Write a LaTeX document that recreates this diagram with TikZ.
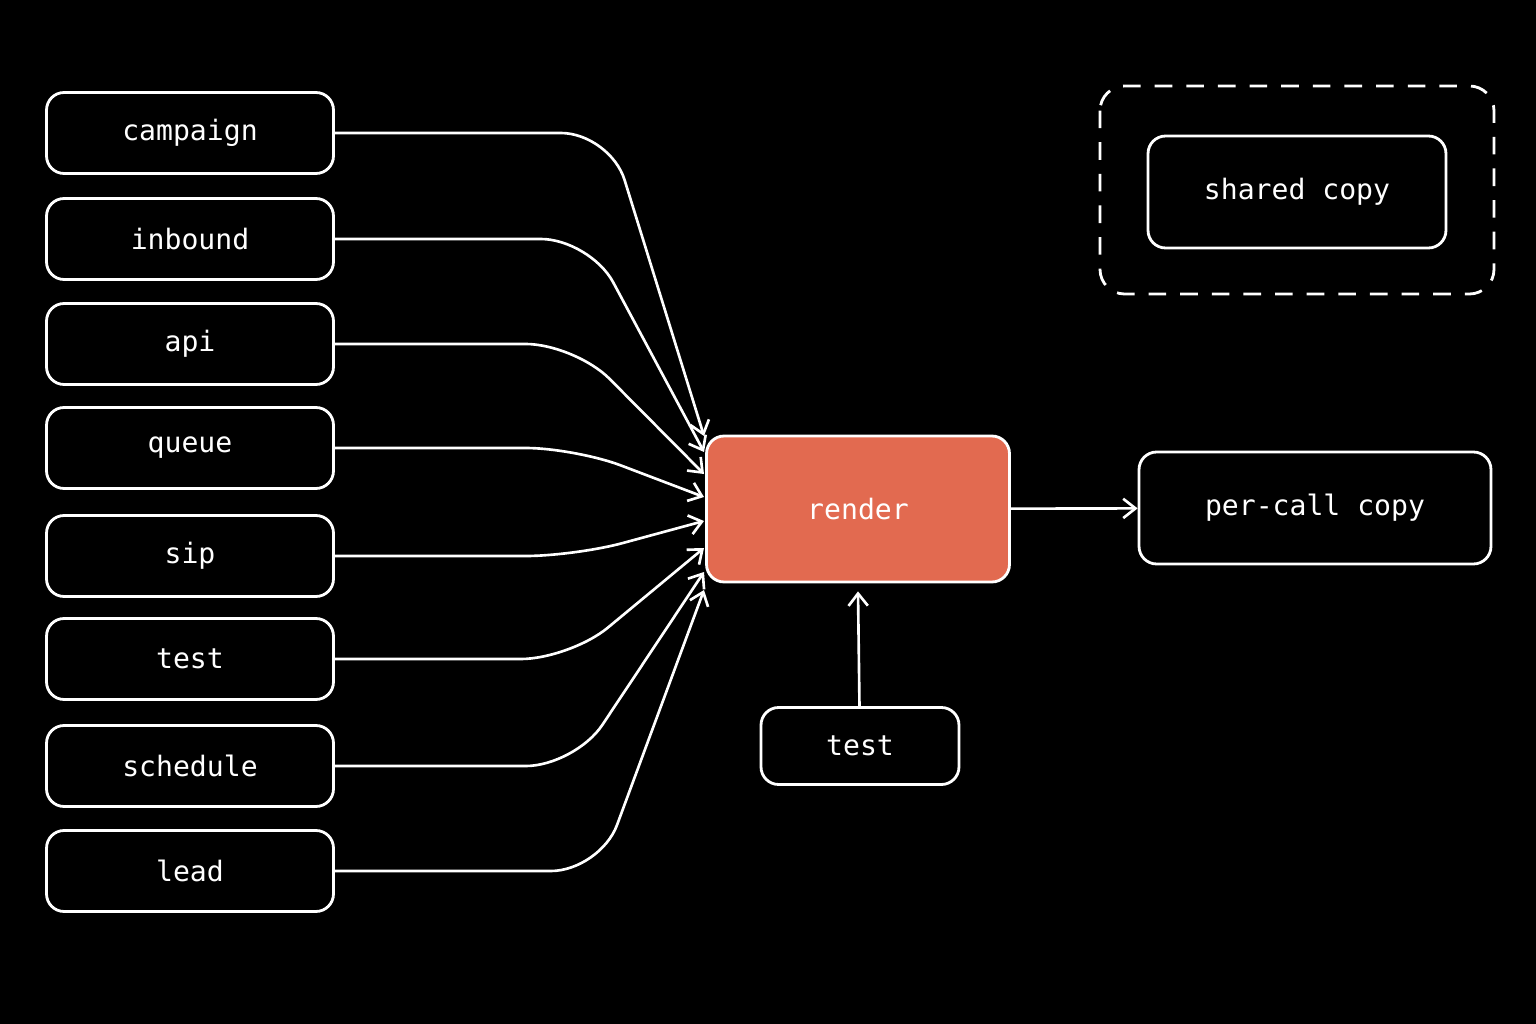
\documentclass[tikz,border=0pt]{standalone}
\usepackage{fontspec}
\setmonofont{DejaVu Sans Mono}
\usetikzlibrary{arrows.meta, calc}
\definecolor{renderfill}{RGB}{226,106,80}
\tikzstyle{source} = [rectangle, draw=white, line width=1.6pt, rounded corners=10pt,
    minimum width=5.74cm, minimum height=1.62cm, text=white, font=\ttfamily\fontsize{16}{18}\selectfont]
\tikzstyle{core} = [source, fill=renderfill, minimum width=6.06cm, minimum height=2.92cm]
\tikzstyle{line} = [draw=white, line width=1.5pt, -{Straight Barb[length=7pt,width=11pt]}]

\begin{document}
\begin{tikzpicture}[x=0.02cm, y=-0.02cm]
    \fill[black] (0,0) rectangle (1536,1024);
    \useasboundingbox (0,0) rectangle (1536,1024);
    % Nodes
    \node [core] (render) at (858,509) {render};
    \node [source, minimum width=7.04cm, minimum height=2.24cm] (percall) at (1315,508) {per-call copy};
    \node [source, minimum width=5.96cm, minimum height=2.24cm] (shared) at (1297,192) {shared copy};
    \draw [white, line width=1.6pt, dash pattern=on 10pt off 8pt, rounded corners=14pt] (1100,86) rectangle (1494,294);
    \node [source, minimum width=3.96cm, minimum height=1.54cm] (testb) at (860,746) {test};
    \foreach \name/\y/\bx/\ey in {campaign/133/610/436, inbound/239/590/452, api/344/575/474,
        queue/448/575/497, sip/556/575/521, test/659/570/548, schedule/766/575/572, lead/871/600/590} {
        \node [source] (\name) at (190,\y) {\name};
        \coordinate (\name end) at (704,\ey);
        \path [line, rounded corners=28pt] (\name.east) -- (\bx,\y) -- (\name end);
    }
    % Edges
    \path [line] (render) -- (percall);
    \path [line] (testb) -- ($(render.south)+(0,8)$);
\end{tikzpicture}
\end{document}
